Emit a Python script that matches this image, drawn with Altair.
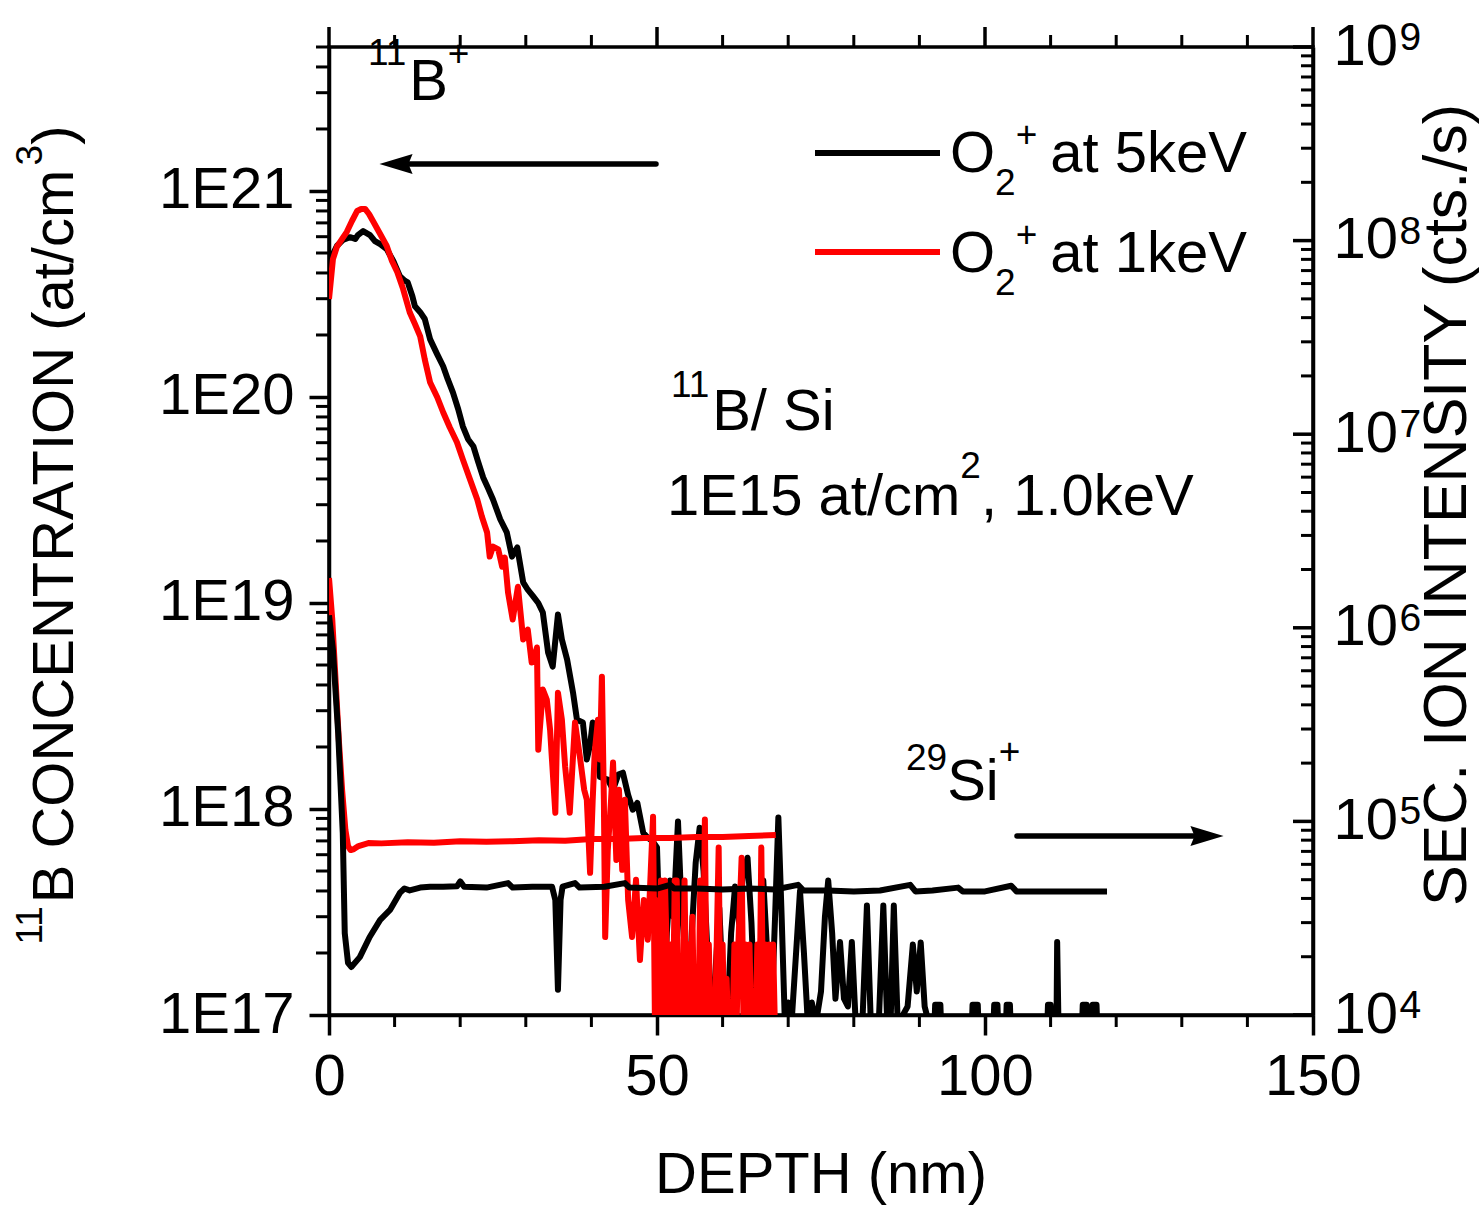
import altair as alt
import pandas as pd

FONT = "Liberation Sans"

# ---------------- data ----------------
# 11B profile, O2+ at 5 keV  (depth nm, at/cm3); None = no counts (line broken)
b5_profile = [
    (0.0, 3.86e20), (0.6, 4.94e20), (1.2, 5.41e20), (2.1, 5.78e20), (3.2, 5.97e20), (4.0, 5.85e20),
    (4.4, 6.11e20), (5.2, 6.39e20), (6.25, 6.11e20), (7.0, 5.71e20), (7.8, 5.52e20), (8.8, 5.22e20),
    (9.8, 4.57e20), (10.8, 3.86e20), (11.6, 3.66e20), (12.0, 3.6e20), (12.7, 3.09e20), (13.1, 2.76e20),
    (13.9, 2.58e20), (14.6, 2.39e20), (15.4, 1.91e20), (16.5, 1.61e20), (17.4, 1.41e20), (18.1, 1.22e20),
    (18.9, 1.05e20), (19.7, 8.72e19), (20.4, 7.21e19), (21.2, 6.24e19), (22.0, 5.77e19), (22.7, 4.88e19),
    (23.5, 4.07e19), (24.2, 3.64e19), (25.0, 3.18e19), (26.1, 2.55e19), (27.1, 2.20e19), (27.9, 1.68e19),
    (28.7, 1.86e19), (29.6, 1.26e19), (30.3, 1.16e19), (31.1, 1.08e19), (31.9, 1.00e19), (32.6, 8.99e18),
    (33.4, 5.75e18), (34.1, 4.91e18), (34.9, 8.79e18), (35.5, 6.65e18), (36.3, 5.31e18), (37.2, 3.67e18),
    (37.8, 2.71e18), (38.7, 2.63e18), (39.3, 1.74e18), (39.8, 2.05e18), (40.2, 2.63e18), (40.9, 2.17e18),
    (41.3, 1.43e18), (42.5, 1.39e18), (43.3, 1.24e18), (44.1, 1.47e18), (44.8, 1.50e18), (45.6, 1.17e18),
    (46.3, 9.92e17), (47.0, 1.07e18), (47.9, 7.67e17), (48.6, 7.25e17), (49.3, 7.0e17), (50.0, 6.5e17),
    (50.5, 2.0e17), (50.9, 9e16), (51.5, 2.5e17), (52.0, 4.5e17), (52.5, 3.0e17), (53.2, 8.7e17),
    (53.7, 3.5e17), (54.2, 2.2e17), (54.7, 9e16), (55.3, 2.5e17), (55.9, 5.5e17), (56.5, 8.1e17),
    (57.1, 5.0e17), (57.7, 2.0e17), (58.3, 9e16), (58.9, 1.6e17), (59.5, 3.3e17), (60.1, 1.2e17),
    (60.7, 9e16), (61.3, 2.5e17), (61.9, 4.2e17), (62.5, 2.8e17), (63.1, 4.8e17), (63.8, 5.8e17),
    (64.4, 2.8e17), (65.0, 9e16), (65.6, 1.5e17), (66.2, 4.5e17), (66.8, 2.0e17), (67.4, 9e16),
    (68.0, 3.0e17), (68.5, 9.1e17), (69.0, 3.0e17), (69.5, 9e16), (70.0, 1.15e17), (70.5, 9e16),
    (71.2, 2.0e17), (71.8, 4.0e17), (72.4, 2.0e17), (73.0, 9e16), (73.6, 1.15e17), (74.2, 9e16),
    (75.0, 1.3e17), (75.6, 3.0e17), (76.1, 4.5e17), (76.7, 2.5e17), (77.2, 1.2e17), (77.9, 2.26e17),
    (78.5, 1.2e17), (79.1, 1.1e17), (79.7, 2.26e17), (80.3, 9e16), (81.3, 9e16), (82.0, 3.4e17),
    (82.6, 9e16), (83.8, 9e16), (84.5, 3.4e17), (85.1, 9e16), (85.6, 9e16), (86.1, 3.4e17),
    (86.7, 9e16), (88.2, 1.1e17), (89.0, 2.2e17), (89.6, 1.3e17), (90.2, 2.25e17), (90.8, 1.1e17),
    (91.5, 9e16), (91.8, None), (92.3, 9e16), (92.4, 1.12e17), (93.2, 1.12e17), (93.3, 9e16),
    (93.6, None), (98.0, 9e16), (98.1, 1.12e17), (98.9, 1.12e17), (99.0, 9e16), (99.3, None),
    (101.3, 9e16), (101.4, 1.12e17), (101.9, 1.12e17), (102.0, 9e16), (102.3, None), (103.2, 9e16),
    (103.3, 1.12e17), (103.8, 1.12e17), (103.9, 9e16), (104.2, None), (109.5, 9e16), (109.6, 1.12e17),
    (110.0, 1.12e17), (110.1, 9e16), (110.5, None), (110.9, 9e16), (111.0, 2.26e17), (111.2, 9e16),
    (111.5, None), (114.8, 9e16), (114.9, 1.12e17), (115.5, 1.12e17), (115.6, 9e16), (116.3, 9e16),
    (116.4, 1.12e17), (117.0, 1.12e17), (117.1, 9e16),
]

# 11B profile, O2+ at 1 keV
b1_profile = [
    (0.0, 2.99e20), (0.3, 3.73e20), (0.6, 4.67e20), (1.2, 5.35e20), (2.0, 5.85e20), (2.7, 6.32e20),
    (3.5, 7.15e20), (4.3, 8.0e20), (4.9, 8.18e20), (5.5, 8.18e20), (6.1, 7.73e20), (6.7, 7.15e20),
    (7.8, 6.18e20), (8.8, 5.41e20), (9.6, 4.57e20), (10.4, 4.04e20), (11.3, 3.34e20), (12.3, 2.58e20),
    (13.1, 2.26e20), (13.9, 1.97e20), (14.6, 1.52e20), (15.4, 1.18e20), (16.5, 9.97e19), (17.4, 8.43e19),
    (18.4, 7.13e19), (19.5, 6.03e19), (20.4, 4.98e19), (21.5, 3.98e19), (22.6, 3.18e19), (23.3, 2.63e19),
    (24.1, 2.20e19), (24.5, 1.68e19), (25.0, 1.88e19), (25.8, 1.82e19), (26.4, 1.50e19), (26.8, 1.66e19),
    (27.3, 1.12e19), (28.0, 8.31e18), (28.8, 1.20e19), (29.3, 8.31e18), (29.6, 6.65e18), (30.3, 7.43e18),
    (30.9, 5.14e18), (31.4, 5.62e18), (31.7, 6.08e18), (31.9, 1.94e18), (32.6, 3.80e18), (33.2, 3.40e18),
    (33.7, 2.43e18), (34.5, 9.59e17), (34.9, 3.67e18), (35.5, 2.71e18), (36.0, 1.60e18), (36.7, 9.59e17),
    (37.5, 2.63e18), (38.3, 1.74e18), (38.9, 1.24e18), (39.3, 1.11e18), (39.8, 4.90e17), (40.2, 1.11e18),
    (40.5, 1.88e18), (41.0, 2.71e18), (41.3, 1.74e18), (41.6, 4.39e18), (41.9, 1.11e18), (42.1, 2.39e17),
    (42.5, 6.34e17), (43.0, 1.11e18), (43.3, 1.68e18), (43.8, 5.66e17), (44.2, 1.24e18), (44.7, 5.07e17),
    (45.1, 1.11e18), (45.6, 3.62e17), (46.2, 2.39e17), (46.8, 4.53e17), (47.4, 1.85e17), (48.0, 3.62e17),
    (48.6, 2.32e17), (49.4, 9.17e17), (49.7, 8e16), (50.0, 3.6e17), (50.3, 8e16), (50.6, 4.5e17),
    (50.9, 8e16), (51.2, 4.5e17), (51.5, 2.0e17), (51.8, 8e16), (52.1, 2.2e17), (52.4, 8e16),
    (52.7, 4.5e17), (53.0, 4.5e17), (53.3, 8e16), (53.9, 8e16), (54.2, 4.5e17),
    (54.5, 8e16), (54.8, 2.2e17), (55.1, 8e16), (55.4, 3.0e17), (55.7, 8e16), (56.0, 1.6e17),
    (56.3, 8e16), (56.6, 4.5e17), (56.9, 8e16), (57.3, 8.9e17), (57.6, 8e16), (57.9, 2.2e17),
    (58.2, 8e16), (58.8, 8e16), (59.1, 2.2e17), (59.4, 6.5e17), (59.7, 8e16),
    (60.0, 2.2e17), (60.3, 8e16), (60.6, 1.5e17), (60.9, 8e16), (61.5, 8e16), (61.8, 2.2e17),
    (62.1, 8e16), (62.4, 2.2e17), (62.9, 5.8e17), (63.2, 8e16), (63.5, 2.2e17),
    (63.8, 8e16), (64.1, 2.2e17), (64.4, 8e16), (65.0, 8e16), (65.3, 2.2e17),
    (65.6, 8e16), (65.9, 6.5e17), (66.2, 8e16), (66.5, 2.2e17), (66.8, 8e16), (67.1, 2.2e17),
    (67.4, 8e16), (67.7, 2.2e17), (68.0, 8e16),
]

# 29Si+ secondary ion intensity (cts/s), O2+ at 5 keV
si5_profile = [
    (0.0, 1.16e6), (0.6, 7.68e5), (1.4, 2.86e5), (2.1, 8.71e4), (2.4, 2.65e4), (2.9, 1.86e4),
    (3.4, 1.77e4), (4.7, 1.99e4), (6.2, 2.53e4), (7.8, 3.10e4), (9.3, 3.49e4), (10.8, 4.27e4),
    (11.5, 4.5e4), (12.3, 4.4e4), (13.9, 4.55e4), (15.4, 4.6e4), (17.4, 4.6e4), (19.5, 4.62e4),
    (20.0, 4.9e4), (20.6, 4.6e4), (24.0, 4.55e4), (27.3, 4.8e4), (28.0, 4.55e4), (31.0, 4.6e4),
    (34.0, 4.6e4), (34.5, 3.93e4), (34.9, 1.35e4), (35.3, 3.93e4), (35.6, 4.6e4), (37.5, 4.8e4),
    (38.2, 4.55e4), (42.0, 4.6e4), (45.1, 4.8e4), (45.8, 4.55e4), (50.0, 4.5e4), (52.0, 4.7e4),
    (52.6, 4.5e4), (56.0, 4.5e4), (60.0, 4.45e4), (64.0, 4.5e4), (68.0, 4.45e4), (71.5, 4.7e4),
    (72.3, 4.4e4), (76.0, 4.4e4), (80.0, 4.35e4), (84.0, 4.4e4), (88.6, 4.7e4), (89.4, 4.35e4),
    (92.0, 4.4e4), (95.9, 4.55e4), (96.6, 4.35e4), (100.0, 4.35e4), (104.0, 4.65e4), (104.8, 4.35e4),
    (108.0, 4.35e4), (112.0, 4.35e4), (116.0, 4.35e4), (118.6, 4.35e4),
]

# 29Si+ secondary ion intensity (cts/s), O2+ at 1 keV
si1_profile = [
    (0.0, 1.81e6), (0.5, 1.10e6), (1.0, 5.37e5), (1.5, 2.63e5), (2.0, 1.45e5), (2.5, 9.03e4),
    (2.9, 7.46e4), (3.3, 7.11e4), (3.8, 7.2e4), (4.5, 7.46e4), (6.0, 7.73e4), (8.0, 7.7e4),
    (12.0, 7.8e4), (16.0, 7.75e4), (20.0, 7.9e4), (24.0, 7.85e4), (28.0, 7.9e4), (32.0, 8.0e4),
    (36.0, 7.95e4), (40.0, 8.1e4), (44.0, 8.1e4), (48.0, 8.2e4), (52.0, 8.2e4), (56.0, 8.3e4),
    (60.0, 8.3e4), (64.0, 8.4e4), (68.1, 8.5e4),
]

x_major = [0, 50, 100, 150]
x_minor = [10, 20, 30, 40, 60, 70, 80, 90, 110, 120, 130, 140]
left_major = [1e17, 1e18, 1e19, 1e20, 1e21]
left_minor = [m * 10.0 ** e for e in range(17, 22) for m in range(2, 10) if m * 10.0 ** e <= 5e21]
right_major = [1e4, 1e5, 1e6, 1e7, 1e8, 1e9]
right_exp = ["4", "5", "6", "7", "8", "9"]
right_minor = [m * 10.0 ** e for e in range(4, 9) for m in range(2, 10)]

# ---------------- layout ----------------
PL, PT, W, H = 329, 47, 984, 968
FS, SS = 58, 37
LW = 6
AXW = 3.5

AW = {' ': 278, '(': 333, ')': 333, '+': 584, ',': 278, '.': 278, '/': 278,
      '0': 556, '1': 556, '2': 556, '3': 556, '4': 556, '5': 556, '6': 556, '7': 556, '8': 556, '9': 556,
      'A': 667, 'B': 667, 'C': 722, 'D': 722, 'E': 667, 'H': 722, 'I': 278, 'N': 722, 'O': 778,
      'P': 667, 'R': 722, 'S': 667, 'T': 611, 'V': 667, 'Y': 667,
      'a': 556, 'c': 500, 'e': 556, 'i': 222, 'k': 500, 'm': 833, 'n': 556, 's': 500, 't': 278}


def tw(s, size):
    return sum(AW.get(c, 556) for c in s) / 1000.0 * size


def pieces_h(parts, x0, y0):
    """parts: (text, vertical offset, font size, extra gap before)"""
    rows, x = [], x0
    for t, dy, sz, gap in parts:
        x += gap
        rows.append({"x": x - PL, "y": y0 + dy - PT, "t": t, "s": sz})
        x += tw(t, sz)
    return rows


def pieces_v(parts, xb, yc):
    total = sum(tw(t, sz) for t, _, sz in parts)
    y = yc + total / 2.0
    rows = []
    for t, raise_, sz in parts:
        rows.append({"x": xb - raise_ - PL, "y": y - PT, "t": t, "s": sz})
        y -= tw(t, sz)
    return rows


def prof_df(pairs, col):
    return pd.DataFrame({"depth": [p[0] for p in pairs],
                         col: [float("nan") if p[1] is None else p[1] for p in pairs]})


xs = alt.Scale(domain=[0, 150])
yb = alt.Scale(type="log", domain=[1e17, 5e21])
ysi = alt.Scale(type="log", domain=[1e4, 1e9])

x_axis = alt.Axis(values=x_major, format="d", title=None, orient="bottom", tickSize=20, tickWidth=AXW,
                  tickColor="black", domainColor="black", domainWidth=AXW, labelFont=FONT,
                  labelFontSize=FS, labelColor="black", labelPadding=13, labelFlush=False,
                  labelOverlap=False, grid=False)
left_axis = alt.Axis(values=left_major, labelExpr="'1E' + round(log(datum.value) / LN10)", title=None,
                     orient="left", tickSize=20, tickWidth=AXW, tickColor="black", domainColor="black",
                     domainWidth=AXW, labelFont=FONT, labelFontSize=FS, labelColor="black",
                     labelPadding=15, labelOverlap=False, grid=False)
right_axis = alt.Axis(values=right_major, labelExpr="'10'", title=None, orient="right", ticks=False,
                      domainColor="black", domainWidth=AXW, labelFont=FONT, labelFontSize=FS,
                      labelColor="black", labelPadding=20, labelOverlap=False, grid=False)

line_kw = dict(strokeWidth=LW, clip=True, strokeJoin="round", invalid="break-paths-show-domains")

# ---- left (boron) group ----
b5_line = alt.Chart(prof_df(b5_profile, "conc")).mark_line(color="black", **line_kw).encode(
    x=alt.X("depth:Q", scale=xs, axis=x_axis), y=alt.Y("conc:Q", scale=yb, axis=left_axis))
b1_line = alt.Chart(prof_df(b1_profile, "conc")).mark_line(color="#ff0000", **line_kw).encode(
    x=alt.X("depth:Q", scale=xs, axis=x_axis), y=alt.Y("conc:Q", scale=yb, axis=left_axis))
lminor = alt.Chart(pd.DataFrame({"conc": left_minor})).mark_rule(color="black", strokeWidth=3).encode(
    y=alt.Y("conc:Q", scale=yb, axis=left_axis), x=alt.value(-13), x2=alt.value(0))
bminor = alt.Chart(pd.DataFrame({"depth": x_minor})).mark_rule(color="black", strokeWidth=3).encode(
    x=alt.X("depth:Q", scale=xs, axis=x_axis), y=alt.value(H), y2=alt.value(H + 12))
tminor = alt.Chart(pd.DataFrame({"depth": x_minor})).mark_rule(color="black", strokeWidth=3).encode(
    x=alt.X("depth:Q", scale=xs, axis=x_axis), y=alt.value(-12), y2=alt.value(0))
tmajor = alt.Chart(pd.DataFrame({"depth": x_major})).mark_rule(color="black", strokeWidth=AXW).encode(
    x=alt.X("depth:Q", scale=xs, axis=x_axis), y=alt.value(-20), y2=alt.value(0))
b_group = alt.layer(b5_line, b1_line, lminor, bminor, tminor, tmajor)

# ---- right (silicon) group ----
si1_line = alt.Chart(prof_df(si1_profile, "inten")).mark_line(color="#ff0000", **line_kw).encode(
    x=alt.X("depth:Q", scale=xs, axis=None), y=alt.Y("inten:Q", scale=ysi, axis=right_axis))
si5_line = alt.Chart(prof_df(si5_profile, "inten")).mark_line(color="black", **line_kw).encode(
    x=alt.X("depth:Q", scale=xs, axis=None), y=alt.Y("inten:Q", scale=ysi, axis=right_axis))
rmaj = alt.Chart(pd.DataFrame({"inten": right_major})).mark_rule(color="black", strokeWidth=AXW).encode(
    y=alt.Y("inten:Q", scale=ysi, axis=right_axis), x=alt.value(W - 20), x2=alt.value(W))
rmin = alt.Chart(pd.DataFrame({"inten": right_minor})).mark_rule(color="black", strokeWidth=3).encode(
    y=alt.Y("inten:Q", scale=ysi, axis=right_axis), x=alt.value(W - 12), x2=alt.value(W))
rexp = alt.Chart(pd.DataFrame({"inten": right_major, "e": right_exp})).mark_text(
    align="left", baseline="alphabetic", font=FONT, fontSize=SS + 2, dy=3, color="black").encode(
    y=alt.Y("inten:Q", scale=ysi, axis=right_axis), x=alt.value(W + 20 + tw("10", FS) + 2), text="e:N")
si_group = alt.layer(si1_line, si5_line, rmaj, rmin, rexp)

# ---- annotations ----
rows = []
rows += pieces_h([("11", -35, SS, 0), ("B", 0, FS, 0), ("+", -34, SS, 0)], 368, 100)
rows += pieces_h([("11", -33, SS, 0), ("B/ Si", 0, FS, 0)], 671, 430)
rows += pieces_h([("1E15 at/cm", 0, FS, 0), ("2", -37, SS, 0), (",", 0, FS, 0),
                  ("1.0keV", 0, FS, tw(" ", FS))], 667, 515)
rows += pieces_h([("29", -30, SS, 0), ("Si", 0, FS, 0), ("+", -36, SS, 0)], 906, 800)
rows += pieces_h([("O", 0, FS, 0), ("2", 23, SS, 0), ("+", -25, SS, 0), ("at 5keV", 0, FS, 13)], 950, 172)
rows += pieces_h([("O", 0, FS, 0), ("2", 23, SS, 0), ("+", -25, SS, 0), ("at 1keV", 0, FS, 13)], 950, 272)
rows += pieces_h([("DEPTH (nm)", 0, FS, 0)], 821 - tw("DEPTH (nm)", FS) / 2.0, 1193)
ann_text = alt.Chart(pd.DataFrame(rows)).mark_text(
    align="left", baseline="alphabetic", font=FONT, color="black").encode(
    x=alt.X("x:Q", scale=None, axis=None), y=alt.Y("y:Q", scale=None, axis=None),
    text="t:N", size=alt.Size("s:Q", scale=None, legend=None))

vrows = pieces_v([("11", 31, SS), ("B CONCENTRATION (at/cm", 0, FS), ("3", 31, SS), (")", 0, FS)], 73, 535)
left_title = alt.Chart(pd.DataFrame(vrows)).mark_text(
    align="left", baseline="alphabetic", font=FONT, color="black", angle=270).encode(
    x=alt.X("x:Q", scale=None, axis=None), y=alt.Y("y:Q", scale=None, axis=None),
    text="t:N", size=alt.Size("s:Q", scale=None, legend=None))
right_title = alt.Chart(pd.DataFrame([{"x": 1466 - PL, "y": 505 - PT, "t": "SEC. ION INTENSITY (cts./s)"}])).mark_text(
    align="center", baseline="alphabetic", font=FONT, fontSize=61, color="black", angle=270).encode(
    x=alt.X("x:Q", scale=None, axis=None), y=alt.Y("y:Q", scale=None, axis=None), text="t:N")

leg_lines = alt.Chart(pd.DataFrame([
    {"x": 815 - PL, "x2": 940 - PL, "y": 153 - PT, "c": "black"},
    {"x": 815 - PL, "x2": 940 - PL, "y": 252 - PT, "c": "#ff0000"},
])).mark_rule(strokeWidth=LW).encode(
    x=alt.X("x:Q", scale=None, axis=None), x2="x2:Q", y=alt.Y("y:Q", scale=None, axis=None),
    color=alt.Color("c:N", scale=None, legend=None))

shafts = alt.Chart(pd.DataFrame([
    {"x": 400 - PL, "x2": 656 - PL, "y": 164 - PT},
    {"x": 1017 - PL, "x2": 1200 - PL, "y": 836 - PT},
])).mark_rule(strokeWidth=5.5, color="black", strokeCap="round").encode(
    x=alt.X("x:Q", scale=None, axis=None), x2="x2:Q", y=alt.Y("y:Q", scale=None, axis=None))
head_l = alt.Chart(pd.DataFrame([{"x": 396 - PL, "y": 164 - PT}])).mark_point(
    shape="M -1 0 L 1 -0.6 L 0.75 0 L 1 0.6 Z", size=1100, filled=True, color="black", opacity=1).encode(
    x=alt.X("x:Q", scale=None, axis=None), y=alt.Y("y:Q", scale=None, axis=None))
head_r = alt.Chart(pd.DataFrame([{"x": 1207 - PL, "y": 836 - PT}])).mark_point(
    shape="M 1 0 L -1 -0.6 L -0.75 0 L -1 0.6 Z", size=1100, filled=True, color="black", opacity=1).encode(
    x=alt.X("x:Q", scale=None, axis=None), y=alt.Y("y:Q", scale=None, axis=None))

ann_group = alt.layer(ann_text, left_title, right_title, leg_lines, shafts, head_l, head_r)

chart = alt.layer(b_group, si_group, ann_group).resolve_scale(
    x="independent", y="independent"
).properties(
    width=W, height=H,
    padding={"left": PL, "top": PT, "right": 1483 - PL - W, "bottom": 1206 - PT - H},
    autosize=alt.AutoSizeParams(type="none"),
    background="white",
).configure_view(stroke="black", strokeWidth=AXW)

chart.save("out.html", embed_options={"renderer": "svg", "actions": False})
